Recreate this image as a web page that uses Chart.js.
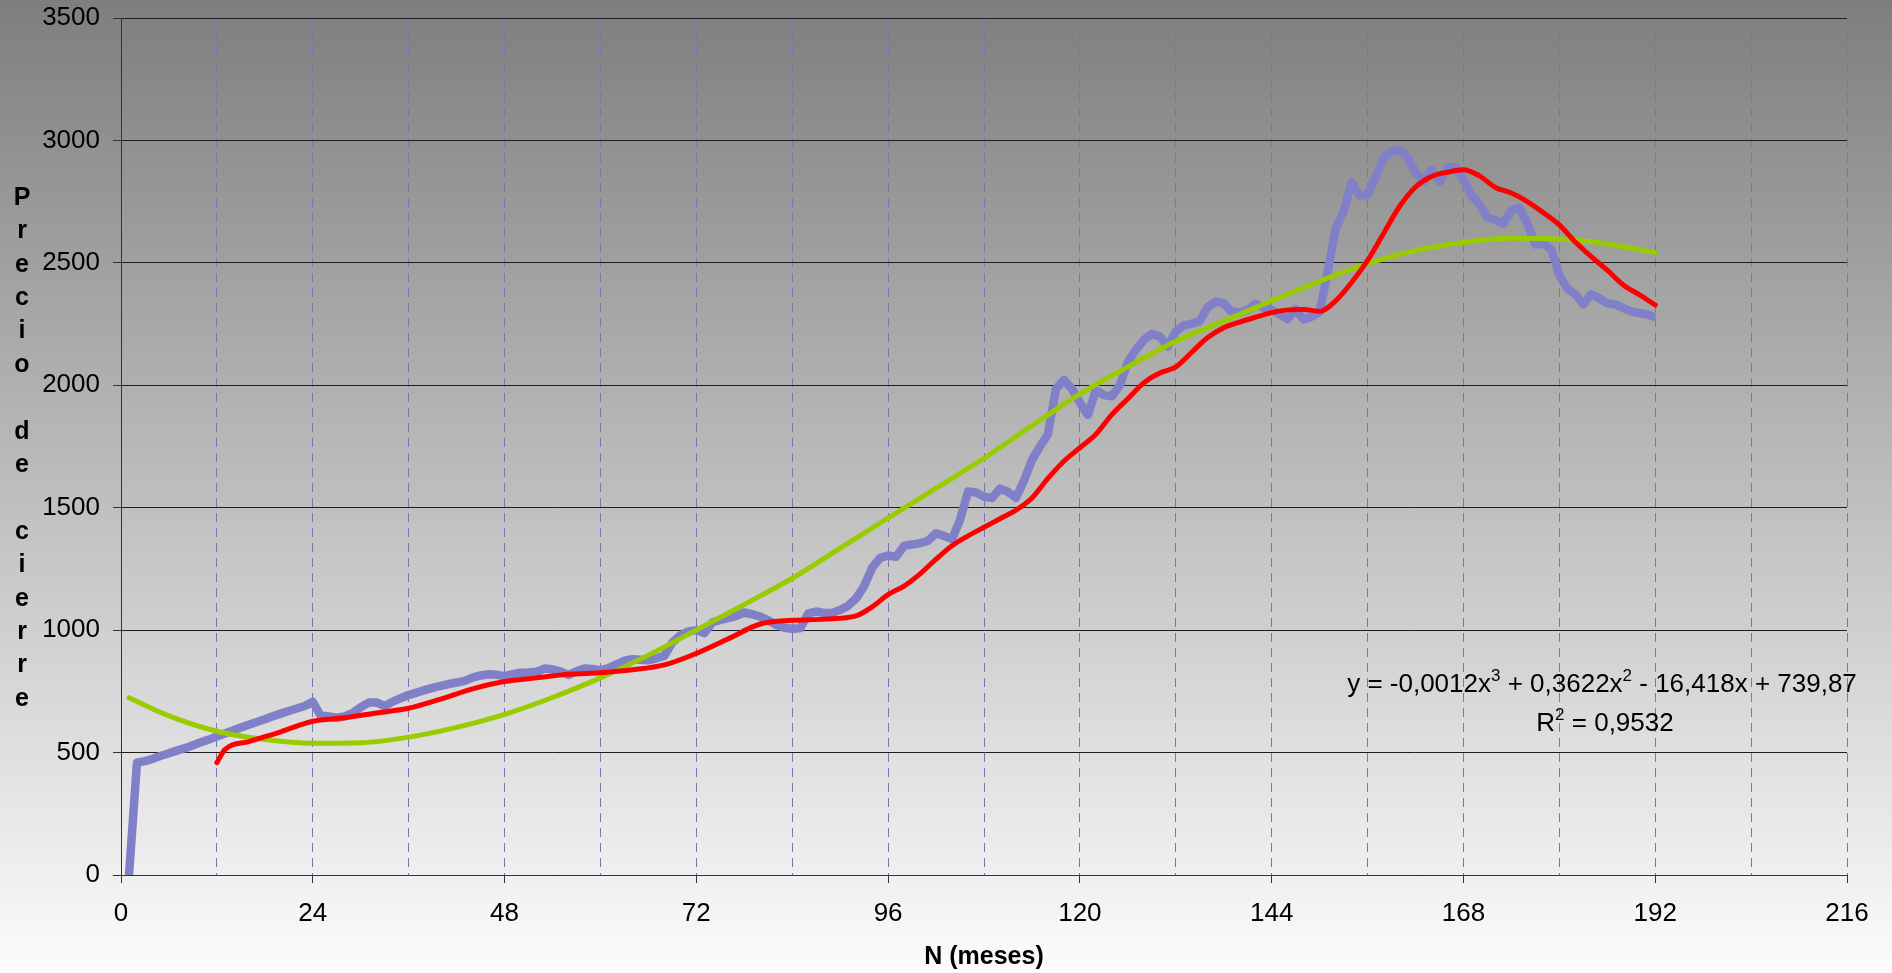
<!DOCTYPE html>
<html>
<head>
<meta charset="utf-8">
<script src="https://cdn.jsdelivr.net/npm/chart.js@4.4.1/dist/chart.umd.min.js"></script>
<style>
  html, body { margin: 0; padding: 0; background: #ffffff; }
  #wrap { width: 1892px; height: 973px; background: linear-gradient(to bottom, #7e7e7e 0%, #fcfcfc 100%); }
  canvas { display: block; }
</style>
</head>
<body>
<div id="wrap"><canvas id="chart" width="1892" height="973"></canvas></div>
<script>
// ---------- data ----------
const xTickLabels = [0, 24, 48, 72, 96, 120, 144, 168, 192, 216];
const xGridMonths = [0, 12, 24, 36, 48, 60, 72, 84, 96, 108, 120, 132, 144, 156, 168, 180, 192, 204, 216];
const yTickLabels = [0, 500, 1000, 1500, 2000, 2500, 3000, 3500];

// Precio de cierre, meses 1..192
const priceValues = [
  0, 459, 465, 475, 487, 497, 508, 518, 530, 542, 553, 566,
  578, 590, 602, 614, 625, 636, 648, 659, 670, 680, 690, 707,
  650, 648, 642, 648, 662, 685, 704, 705, 690, 708, 722, 735,
  745, 755, 764, 772, 780, 786, 793, 806, 815, 820, 818, 812,
  820, 826, 827, 830, 843, 840, 832, 817, 832, 843, 841, 836,
  845, 860, 875, 881, 879, 877, 885, 895, 950, 978, 995, 1000,
  988, 1031, 1042, 1049, 1058, 1072, 1065, 1055, 1040, 1021, 1010, 1006,
  1008, 1068, 1076, 1070, 1070, 1082, 1100, 1130, 1180, 1255, 1295, 1305,
  1300, 1345, 1350, 1355, 1365, 1396, 1385, 1372, 1450, 1566, 1562, 1545,
  1540, 1578, 1565, 1540, 1610, 1695, 1750, 1800, 1985, 2022, 1985, 1930,
  1879, 1980, 1960, 1955, 2000, 2095, 2145, 2185, 2210, 2200, 2158, 2220,
  2245, 2252, 2262, 2320, 2342, 2335, 2300, 2297, 2308, 2333, 2318, 2308,
  2290, 2270, 2311, 2269, 2280, 2300, 2460, 2640, 2710, 2830, 2775, 2778,
  2850, 2930, 2955, 2962, 2930, 2870, 2832, 2880, 2832, 2890, 2890, 2840,
  2775, 2740, 2685, 2676, 2660, 2715, 2725, 2660, 2575, 2580, 2555, 2450,
  2395, 2372, 2330, 2372, 2355, 2335, 2330, 2315, 2302, 2295, 2290, 2278
];
const priceMonths = priceValues.map((v, i) => i + 1);

// Media movil (roja)
const avgMonths = [12, 13, 16, 20, 24, 28, 32, 36, 40, 44, 48, 52, 56, 60, 64, 68, 72, 76, 80, 84, 88, 92, 94, 96, 98,
  100, 102, 104, 106, 108, 110, 112, 114, 116, 118, 120, 122, 124, 126, 128, 130, 132, 134, 136, 138, 140, 142, 144,
  146, 148, 150, 152, 154, 156, 158, 160, 162, 164, 166, 168, 170, 172, 174, 176, 178, 180, 182, 184, 186, 188, 190, 192];
const avgValues = [459, 512, 545, 585, 628, 642, 662, 681, 718, 760, 790, 805, 820, 826, 838, 858, 905, 965, 1025, 1040, 1045, 1058, 1095, 1145, 1180,
  1230, 1290, 1345, 1385, 1420, 1455, 1490, 1540, 1620, 1690, 1745, 1800, 1880, 1945, 2010, 2050, 2075, 2135, 2195, 2235, 2258, 2278, 2297,
  2308, 2310, 2302, 2345, 2420, 2510, 2620, 2730, 2810, 2853, 2870, 2880, 2855, 2808, 2785, 2750, 2705, 2655, 2585, 2525, 2470, 2410, 2370, 2328];

// Linea de tendencia polinomica (verde)
const trendMonths = [1, 6, 12, 18, 24, 30, 36, 42, 48, 54, 60, 66, 72, 78, 84, 90, 96, 102, 108, 114, 120, 126, 132, 138, 144, 150, 156, 162, 168, 174, 180, 186, 192];
const trendValues = [724, 650, 587, 553, 538, 540, 563, 603, 656, 725, 805, 898, 1000, 1105, 1212, 1335, 1458, 1580, 1702, 1835, 1965, 2075, 2180, 2262, 2345, 2425, 2497, 2550, 2583, 2600, 2597, 2577, 2542];

const xTitle = 'N (meses)';
const yTitle = 'Precio de cierre';
const equationParts = [['y = -0,0012x', false], ['3', true], [' + 0,3622x', false], ['2', true], [' - 16,418x + 739,87', false]];
const r2Parts = [['R', false], ['2', true], [' = 0,9532', false]];

// ---------- chart ----------
const FONT = '"Liberation Sans", Arial, sans-serif';
const toXY = (xs, ys) => xs.map((x, i) => ({ x: x, y: ys[i] }));

function drawRich(ctx, parts, cx, baseline, size, supSize, supRise) {
  let total = 0;
  parts.forEach(([t, sup]) => {
    ctx.font = (sup ? supSize : size) + 'px ' + FONT;
    total += ctx.measureText(t).width;
  });
  let x = cx - total / 2;
  ctx.textAlign = 'left';
  ctx.textBaseline = 'alphabetic';
  parts.forEach(([t, sup]) => {
    ctx.font = (sup ? supSize : size) + 'px ' + FONT;
    ctx.fillText(t, x, sup ? baseline - supRise : baseline);
    x += ctx.measureText(t).width;
  });
}

const textPlugin = {
  id: 'extraTexts',
  afterDraw(chart) {
    const ctx = chart.ctx;
    ctx.save();
    ctx.fillStyle = '#000';
    // vertical stacked y-axis title
    ctx.font = 'bold 25px ' + FONT;
    ctx.textAlign = 'center';
    ctx.textBaseline = 'middle';
    const letters = yTitle.split('');
    letters.forEach((ch, i) => {
      if (ch !== ' ') ctx.fillText(ch, 22, 198 + 33.4 * i);
    });
    // trendline equation
    drawRich(ctx, equationParts, 1602, 692, 26, 17, 11);
    drawRich(ctx, r2Parts, 1605, 731, 26, 17, 11);
    ctx.restore();
  }
};

new Chart(document.getElementById('chart'), {
  type: 'line',
  data: {
    datasets: [
      {
        label: 'Media',
        data: toXY(avgMonths, avgValues),
        borderColor: '#ff0000',
        borderWidth: 5,
        pointRadius: 0,
        cubicInterpolationMode: 'monotone',
        borderCapStyle: 'round',
        borderJoinStyle: 'round',
        fill: false,
        order: 1
      },
      {
        label: 'Tendencia',
        data: toXY(trendMonths, trendValues),
        borderColor: '#99cc00',
        borderWidth: 5,
        pointRadius: 0,
        cubicInterpolationMode: 'monotone',
        borderCapStyle: 'round',
        fill: false,
        order: 2
      },
      {
        label: 'Precio de cierre',
        data: toXY(priceMonths, priceValues),
        borderColor: '#8080c8',
        borderWidth: 8.5,
        pointRadius: 0,
        tension: 0,
        borderJoinStyle: 'round',
        fill: false,
        order: 3
      }
    ]
  },
  options: {
    responsive: false,
    animation: false,
    devicePixelRatio: 1,
    layout: { padding: { top: 18, right: 45, bottom: 0, left: 0 } },
    plugins: { legend: { display: false }, tooltip: { enabled: false } },
    scales: {
      x: {
        type: 'linear',
        min: 0,
        max: 216,
        afterBuildTicks: (s) => { s.ticks = xGridMonths.map(v => ({ value: v })); },
        afterFit: (s) => { s.height = 98; },
        ticks: {
          autoSkip: false,
          maxRotation: 0,
          padding: 15,
          color: '#000',
          font: { family: FONT, size: 26 },
          callback: (v) => xTickLabels.includes(v) ? String(v) : ''
        },
        grid: {
          color: (c) => (c.tick && c.tick.value === 0) ? 'rgba(0,0,0,0)' : '#7676b0',
          lineWidth: 1,
          tickLength: 8,
          tickColor: (c) => (c.tick && xTickLabels.includes(c.tick.value)) ? '#333' : 'rgba(0,0,0,0)'
        },
        border: { display: true, color: '#333', width: 1, dash: [9, 6] },
        title: {
          display: true,
          text: xTitle,
          color: '#000',
          font: { family: FONT, size: 25, weight: 'bold' },
          padding: { top: 0, bottom: 1 }
        }
      },
      y: {
        min: 0,
        max: 3500,
        afterBuildTicks: (s) => { s.ticks = yTickLabels.map(v => ({ value: v })); },
        afterFit: (s) => { s.width = 121; },
        ticks: {
          padding: 13,
          color: '#000',
          font: { family: FONT, size: 26, lineHeight: 0.3 },
          callback: (v) => String(v)
        },
        grid: { color: '#1e1e1e', lineWidth: 1, tickLength: 8, tickColor: '#333' },
        border: { display: true, color: '#333', width: 1 }
      }
    }
  },
  plugins: [textPlugin]
});
</script>
</body>
</html>
